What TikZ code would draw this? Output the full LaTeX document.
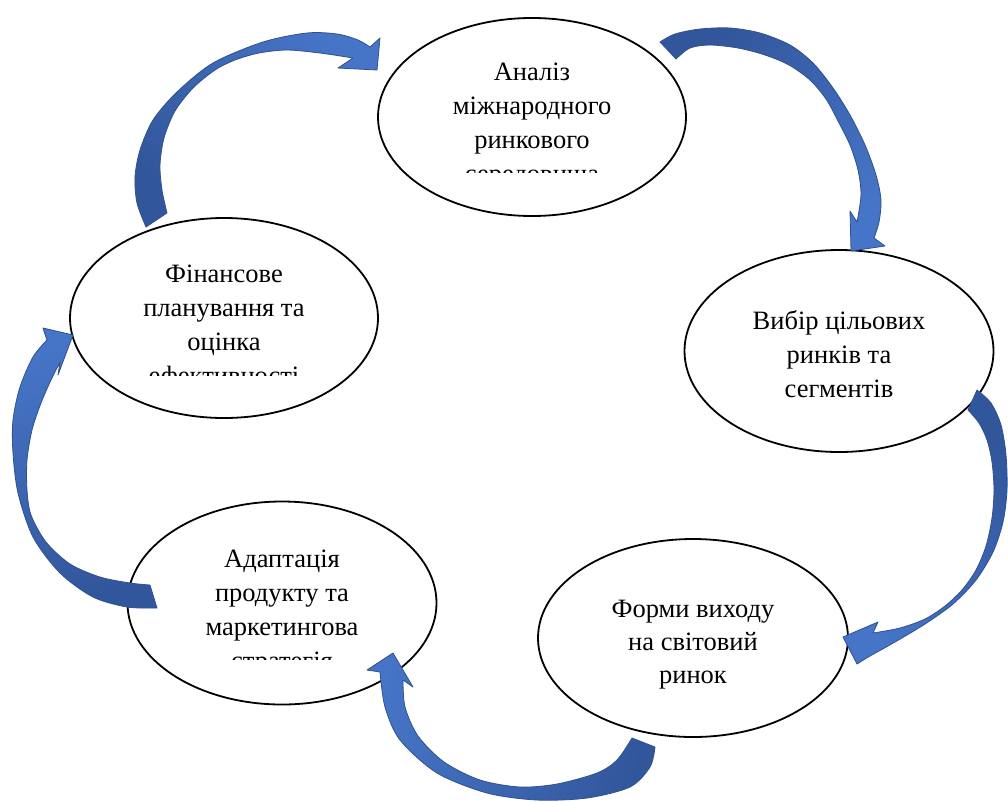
\documentclass[tikz,border=0pt]{standalone}
\usepackage{fontspec}
\setmainfont{Liberation Serif}
\usetikzlibrary{shapes.geometric}
\definecolor{arrdark}{RGB}{50,86,155}
\definecolor{arrlight}{RGB}{70,116,198}
\definecolor{arrline}{RGB}{47,82,143}
\begin{document}
\begin{tikzpicture}[x=1pt,y=-1pt,
  ell/.style={ellipse, draw=black, line width=1.8pt, inner sep=0pt, fill=white},
  txt/.style={inner sep=0pt, font=\fontsize{26.5}{34}\selectfont},
  barrow/.style={draw=arrline, line width=0.8pt, line join=round, top color=arrlight, bottom color=arrdark}]
\fill[white] (0,0) rectangle (1008,801);
\useasboundingbox (0,0) rectangle (1008,801);

% ellipses
\node[ell, minimum width=308pt, minimum height=198pt] (e1) at (532,117) {};
\node[ell, minimum width=309pt, minimum height=202pt] (e2) at (839,351) {};
\node[ell, minimum width=310pt, minimum height=198pt] (e3) at (693,638) {};
\node[ell, minimum width=309pt, minimum height=203pt] (e4) at (282,603) {};
\node[ell, minimum width=308pt, minimum height=200pt] (e5) at (224,318) {};

% texts
\begin{scope}
\clip (378,0) rectangle (686,172);
\foreach \t [count=\i] in {Аналіз,міжнародного,ринкового,середовища}
  \node[txt,anchor=base] (t1-\i) at (532,{80+34*(\i-1)}) {\t};
\end{scope}
\foreach \t [count=\i] in {Вибір цільових,ринків та,сегментів}
  \node[txt,anchor=base] (t2-\i) at (839,{329+34*(\i-1)}) {\t};
\foreach \t [count=\i] in {Форми виходу,на світовий,ринок}
  \node[txt,anchor=base] (t3-\i) at (693,{617+33*(\i-1)}) {\t};
\begin{scope}
\clip (128,450) rectangle (437,659);
\foreach \t [count=\i] in {Адаптація,продукту та,маркетингова,стратегія}
  \node[txt,anchor=base] (t4-\i) at (282,{567+34*(\i-1)}) {\t};
\end{scope}
\begin{scope}
\clip (70,200) rectangle (378,375);
\foreach \t [count=\i] in {Фінансове,планування та,оцінка,ефективності}
  \node[txt,anchor=base] (t5-\i) at (224,{282+34*(\i-1)}) {\t};
\end{scope}

% curved block arrows
% A: e5 -> e1
\path[barrow, shading angle=-45]
  plot[smooth] coordinates {(146,227) (137,203) (135,177) (140,150) (153,120) (177,92) (213,63) (263,42) (307,33) (337,34) (358,40) (370,47)}
  -- (380,38) -- (377,70) -- (338,68) -- (353,58)
  -- plot[smooth] coordinates {(353,58) (320,53) (287,50) (259,53) (235,60) (215,70) (193,88) (175,111) (164,138) (160,165) (162,190) (167,213)}
  -- cycle;
% B: e1 -> e2
\path[barrow, shading angle=-135]
  plot[smooth] coordinates {(660,42) (675,34) (700,29) (730,28) (760,33) (790,45) (813,63) (833,88) (850,115) (865,145) (876,175) (881,200) (879,222) (874,238)}
  -- (885,246) -- (851,251) -- (850,211) -- (857,222)
  -- plot[smooth] coordinates {(857,222) (861,195) (858,170) (850,145) (838,121) (826,99) (810,80) (789,65) (765,55) (738,48) (710,45) (690,48) (676,59)}
  -- cycle;
% C: e2 -> e3
\path[barrow, shading angle=135]
  plot[smooth] coordinates {(977,390) (991,403) (1001,425) (1006,455) (1007,490) (1003,522) (993,552) (976,580) (953,604) (925,624) (895,642) (870,656) (857,664)}
  -- (843,637) -- (878,622) -- (873,633)
  -- plot[smooth] coordinates {(873,633) (900,628) (925,619) (945,606) (962,590) (976,570) (986,546) (992,518) (994,490) (992,462) (987,440) (979,423) (968,410)}
  -- cycle;
% D: e3 -> e4
\path[barrow, shading angle=80]
  plot[smooth] coordinates {(655,747) (650,767) (630,787) (587,798) (537,800) (487,793) (437,773) (400,740) (385,707) (380,672)}
  -- (367,670) -- (393,653) -- (413,687) -- (403,680)
  -- plot[smooth] coordinates {(403,680) (405,707) (418,736) (444,762) (480,780) (520,787) (557,784) (597,773) (617,760) (632,738)}
  -- cycle;
% E: e4 -> e5
\path[barrow, shading angle=20]
  plot[smooth] coordinates {(157,608) (127,607) (93,597) (60,573) (33,537) (18,493) (13,453) (13,420) (20,387) (33,357) (47,340)}
  -- (43,328) -- (73,335) -- (58,375) -- (60,362)
  -- plot[smooth] coordinates {(60,362) (51,380) (41,403) (32,430) (27,460) (27,490) (31,515) (46,542) (70,564) (100,577) (130,583) (150,585)}
  -- cycle;
\end{tikzpicture}
\end{document}
